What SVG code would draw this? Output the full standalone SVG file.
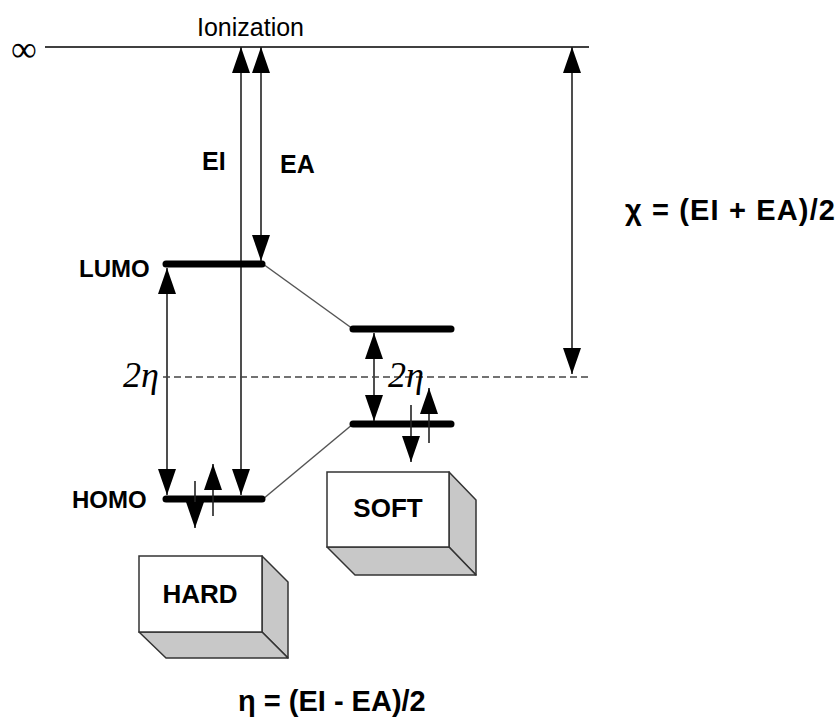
<svg xmlns="http://www.w3.org/2000/svg" width="839" height="720" viewBox="0 0 839 720">
<style>
.sans{font-family:"Liberation Sans",Arial,sans-serif}
.b{font-weight:bold}
.ser{font-family:"Liberation Serif","Times New Roman",serif;font-style:italic}
.ln{stroke:#222;stroke-width:1.6;fill:none}
.thin{stroke:#555;stroke-width:1.5;fill:none}
.bar{stroke:#000;stroke-width:7;stroke-linecap:round}
.dash{stroke:#444;stroke-width:1.5;stroke-dasharray:7 4;fill:none}
.box{fill:#fff;stroke:#333;stroke-width:1.5}
.side{fill:#c8c8c8;stroke:#333;stroke-width:1.5;stroke-linejoin:round}
</style>
<defs>
<marker id="ah" markerUnits="userSpaceOnUse" markerWidth="27" markerHeight="18" refX="26" refY="9" orient="auto-start-reverse" viewBox="0 0 27 18">
<path d="M0,0 L26,9 L0,18 z" fill="#000"/>
</marker>
</defs>
<rect width="839" height="720" fill="#fff"/>

<g id="infinity-level">
<line x1="45" y1="47" x2="589" y2="47" stroke="#000" stroke-width="1.6"/>
<text x="11" y="61" font-family="Liberation Serif,serif" font-size="36">∞</text>
<text class="sans" x="197" y="36" font-size="25">Ionization</text>
</g>

<g id="connectors">
<line class="ln" x1="241" y1="495" x2="241" y2="47" marker-start="url(#ah)" marker-end="url(#ah)"/>
<line class="ln" x1="261" y1="261" x2="261" y2="47" marker-start="url(#ah)" marker-end="url(#ah)"/>
<line class="ln" x1="167" y1="495" x2="167" y2="268" marker-start="url(#ah)" marker-end="url(#ah)"/>
<line class="ln" x1="572" y1="374" x2="572" y2="47" marker-start="url(#ah)" marker-end="url(#ah)"/>
<line class="ln" x1="374" y1="421" x2="374" y2="333" marker-start="url(#ah)" marker-end="url(#ah)"/>
<line class="thin" x1="263" y1="264" x2="353" y2="329"/>
<line class="thin" x1="353" y1="424" x2="263" y2="499"/>
<line class="dash" x1="163" y1="377" x2="591" y2="377"/>
</g>

<g id="hard-lumo">
<line class="bar" x1="166" y1="264" x2="262" y2="264"/>
<text class="sans b" x="79" y="277" font-size="24">LUMO</text>
</g>
<g id="hard-homo">
<line class="bar" x1="166" y1="499" x2="262" y2="499"/>
<text class="sans b" x="72" y="508" font-size="24">HOMO</text>
<line class="ln" x1="195" y1="481" x2="195" y2="528" marker-end="url(#ah)"/>
<line class="ln" x1="213" y1="516" x2="213" y2="464" marker-end="url(#ah)"/>
</g>
<g id="soft-lumo">
<line class="bar" x1="353" y1="329" x2="451" y2="329"/>
</g>
<g id="soft-homo">
<line class="bar" x1="353" y1="424" x2="451" y2="424"/>
<line class="ln" x1="411" y1="405" x2="411" y2="462" marker-end="url(#ah)"/>
<line class="ln" x1="429" y1="443" x2="429" y2="388" marker-end="url(#ah)"/>
</g>

<g id="labels">
<text class="sans b" x="202" y="170" font-size="25">EI</text>
<text class="sans b" x="280" y="173" font-size="25">EA</text>
<text class="ser" x="123" y="387" font-size="36">2η</text>
<text class="ser" x="388" y="387" font-size="36">2η</text>
<text class="sans b" x="625" y="220" font-size="29" textLength="210" lengthAdjust="spacing">χ = (EI + EA)/2</text>
<text class="sans b" x="238" y="711" font-size="29">η = (EI - EA)/2</text>
</g>

<g id="soft-box">
<polygon class="side" points="449,472 476,500 476,575 449,547"/>
<polygon class="side" points="327,547 449,547 476,575 355,575"/>
<rect class="box" x="327" y="472" width="122" height="75"/>
<text class="sans b" x="388" y="517" font-size="26" text-anchor="middle">SOFT</text>
</g>
<g id="hard-box">
<polygon class="side" points="262,556 288,582 288,658 262,632"/>
<polygon class="side" points="139,632 262,632 288,658 166,658"/>
<rect class="box" x="139" y="556" width="123" height="76"/>
<text class="sans b" x="200" y="603" font-size="26" text-anchor="middle">HARD</text>
</g>
</svg>
